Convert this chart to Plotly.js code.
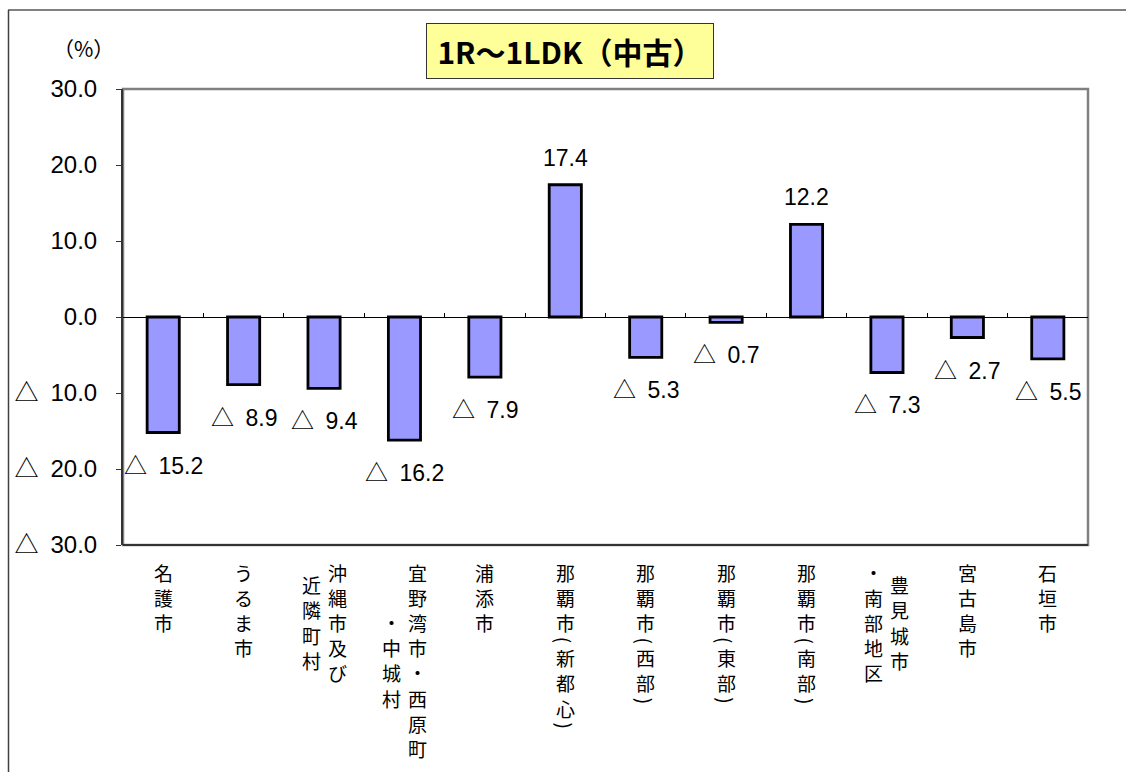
<!DOCTYPE html>
<html>
<head>
<meta charset="utf-8">
<script src="https://cdn.plot.ly/plotly-3.0.1.min.js"></script>
<style>
  html, body { margin: 0; padding: 0; background: #ffffff; }
  #chart { width: 1126px; height: 772px; }
</style>
</head>
<body>
<div id="chart"></div>
<script>
// Area names (a "\n" starts a new vertical column of the label)
const categories = [
  '名護市',
  'うるま市',
  '沖縄市及び\n近隣町村',
  '宜野湾市・西原町\n・中城村',
  '浦添市',
  '那覇市（新都心）',
  '那覇市（西部）',
  '那覇市（東部）',
  '那覇市（南部）',
  '豊見城市\n・南部地区',
  '宮古島市',
  '石垣市'
];

// Year-on-year change (%)
const changeRate = [-15.2, -8.9, -9.4, -16.2, -7.9, 17.4, -5.3, -0.7, 12.2, -7.3, -2.7, -5.5];

const yTickValues = [30, 20, 10, 0, -10, -20, -30];
const yTickLabels = ['30.0', '20.0', '10.0', '0.0', '△\u200210.0', '△\u200220.0', '△\u200230.0'];

const chartTitle = '1R～1LDK（中古）';
const unitLabel = '（%）';

// ---- layout geometry (pixels) ----
const W = 1126, H = 772;
const PL = 123, PR = 1088, PT = 89, PB = 545;
const px2x = px => (px - PL) / (PR - PL);
const px2y = py => (PB - py) / (PB - PT);

const numFont = { family: 'Liberation Sans, Arial, Noto Sans CJK JP, sans-serif', size: 23, color: '#000000' };
const cjkFont = { family: 'Noto Sans CJK JP, sans-serif', size: 19, color: '#000000' };

const annotations = [];

// Title box
annotations.push({
  xref: 'paper', yref: 'paper',
  x: px2x(570), y: px2y(51),
  xanchor: 'center', yanchor: 'middle',
  text: '<b>' + chartTitle + '</b>',
  showarrow: false,
  font: { family: 'Noto Sans CJK JP, sans-serif', size: 30, color: '#000000' },
  bgcolor: '#FFFF99',
  bordercolor: '#333333',
  borderwidth: 1,
  borderpad: 0,
  width: 286,
  height: 54
});

// Unit label
annotations.push({
  xref: 'paper', yref: 'paper',
  x: px2x(83), y: px2y(48),
  xanchor: 'center', yanchor: 'middle',
  text: unitLabel,
  showarrow: false,
  font: { family: 'Noto Sans CJK JP, sans-serif', size: 21, color: '#000000' }
});

// Value labels, negatives written with a leading triangle
changeRate.forEach((v, i) => {
  annotations.push({
    xref: 'x', yref: 'y',
    x: i, y: v,
    xanchor: 'center', yanchor: 'middle',
    yshift: v < 0 ? -33 : 27,
    text: v < 0 ? '△\u2002' + Math.abs(v).toFixed(1) : v.toFixed(1),
    showarrow: false,
    font: numFont
  });
});

// Vertical category labels, one character per cell, columns right to left.
// Brackets are turned a quarter turn so they read as vertical brackets.
const ROTATED_BRACKET = { '（': '(', '）': ')' };
const CELL = 25.2, BRACKET_CELL = 10, COL_STEP = 26, LABEL_TOP = 559.5;
categories.forEach((cat, i) => {
  const cols = cat.split('\n');
  const heights = cols.map(c => [...c].reduce((s, ch) => s + (ROTATED_BRACKET[ch] ? BRACKET_CELL : CELL), 0));
  const maxH = Math.max(...heights);
  cols.forEach((col, j) => {
    const dx = ((cols.length - 1) / 2 - j) * COL_STEP;
    let y = LABEL_TOP + (maxH - heights[j]) / 2;
    [...col].forEach(ch => {
      const bracket = ROTATED_BRACKET[ch];
      const h = bracket ? BRACKET_CELL : CELL;
      annotations.push({
        xref: 'x', yref: 'paper',
        x: i, y: 0,
        xanchor: 'center', yanchor: 'middle',
        xshift: dx,
        yshift: -(y + h / 2 - PB),
        text: bracket || ch,
        textangle: bracket ? 90 : 0,
        showarrow: false,
        font: cjkFont
      });
      y += h;
    });
  });
});

const shapes = [
  // outer chart frame
  { type: 'line', xref: 'paper', yref: 'paper', x0: px2x(8), x1: px2x(1140), y0: px2y(10), y1: px2y(10),
    line: { color: '#808080', width: 2 } },
  { type: 'line', xref: 'paper', yref: 'paper', x0: px2x(8.5), x1: px2x(8.5), y0: px2y(10), y1: px2y(790),
    line: { color: '#404040', width: 1.5 } },
  // plot area border
  { type: 'rect', xref: 'paper', yref: 'paper', x0: 0, x1: 1, y0: 0, y1: 1,
    line: { color: '#808080', width: 2.5 }, layer: 'below' },
  { type: 'line', xref: 'paper', yref: 'paper', x0: 0, x1: 1, y0: 0, y1: 0,
    line: { color: '#333333', width: 2 } }
];

const trace = {
  type: 'bar',
  x: categories.map((c, i) => i),
  y: changeRate,
  width: 0.4,
  marker: { color: '#9999FF', line: { color: '#000000', width: 2.8 } },
  hoverinfo: 'none'
};

const layout = {
  width: W, height: H,
  margin: { l: PL, r: W - PR, t: PT, b: H - PB, pad: 0 },
  paper_bgcolor: '#ffffff',
  plot_bgcolor: '#ffffff',
  showlegend: false,
  xaxis: {
    range: [-0.5, categories.length - 0.5],
    tickmode: 'array',
    tickvals: categories.map((c, i) => i + 0.5),
    ticks: 'inside', ticklen: 4, tickcolor: '#000000', tickwidth: 1,
    showticklabels: false,
    showgrid: false, zeroline: false,
    showline: true, linecolor: '#000000', linewidth: 1,
    anchor: 'free', position: 0.5,
    fixedrange: true
  },
  yaxis: {
    range: [-30, 30],
    tickmode: 'array',
    tickvals: yTickValues,
    ticktext: yTickLabels,
    ticks: 'outside', ticklen: 5, tickcolor: '#333333', tickwidth: 1,
    ticklabelstandoff: 14,
    tickfont: { family: 'Liberation Sans, Arial, Noto Sans CJK JP, sans-serif', size: 24, color: '#000000' },
    showgrid: false, zeroline: false,
    showline: true, linecolor: '#333333', linewidth: 2,
    fixedrange: true
  },
  annotations: annotations,
  shapes: shapes
};

Plotly.newPlot('chart', [trace], layout, { displayModeBar: false, staticPlot: true });
</script>
</body>
</html>
